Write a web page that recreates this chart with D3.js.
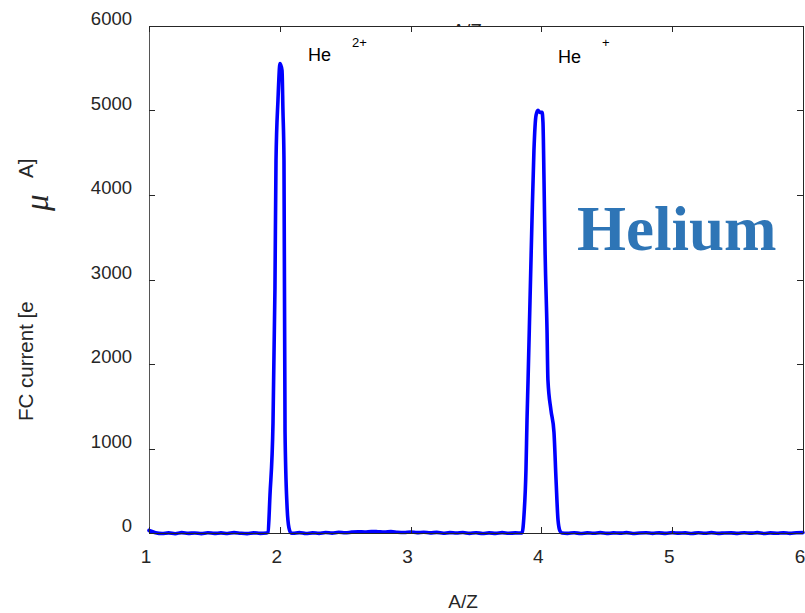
<!DOCTYPE html>
<html>
<head>
<meta charset="utf-8">
<script src="https://cdn.jsdelivr.net/npm/d3@7"></script>
<style>
html,body{margin:0;padding:0;background:#fff;}
svg{display:block;}
</style>
</head>
<body>
<svg id="chart" width="805" height="613"></svg>
<script>
// ---- data ----
const xTicks = [1, 2, 3, 4, 5, 6];
const yTicks = [0, 1000, 2000, 3000, 4000, 5000, 6000];
const ionLabels = ["He", "He"];
const ionCharges = ["2+", "+"];
const elementName = "Helium";

const scanAZ = [
  1.00,1.05,1.10,1.15,1.20,1.25,1.30,1.35,1.40,1.45,1.50,1.55,1.60,1.65,1.70,1.75,1.80,1.85,1.90,
  1.910,1.925,1.948,1.963,1.971,1.986,2.002,2.017,2.024,2.032,2.040,2.055,2.070,2.086,
  2.10,2.15,2.20,2.25,2.30,2.35,2.40,2.45,2.50,2.55,2.60,2.65,2.70,2.75,2.80,2.85,2.90,2.95,
  3.00,3.05,3.10,3.15,3.20,3.25,3.30,3.35,3.40,3.45,3.50,3.55,3.60,3.65,3.70,3.75,3.80,
  3.852,3.867,3.882,3.890,3.898,3.913,3.928,3.943,3.959,3.974,3.989,4.005,4.012,4.020,4.028,
  4.043,4.050,4.073,4.096,4.112,4.127,4.142,4.157,
  4.20,4.25,4.30,4.35,4.40,4.45,4.50,4.55,4.60,4.65,4.70,4.75,4.80,4.85,4.90,4.95,
  5.00,5.05,5.10,5.15,5.20,5.25,5.30,5.35,5.40,5.45,5.50,5.55,5.60,5.65,5.70,5.75,5.80,5.85,5.90,5.95,6.00
];
const scanCurrent = [
  30,4,-6,2,-8,5,-4,0,-7,3,-5,1,-6,4,-3,-7,2,-4,0,
  10,450,1300,2900,4410,5120,5557,5474,5000,4410,1200,330,60,0,
  -3,5,-6,2,-4,6,-2,8,3,10,14,12,18,15,11,16,9,6,
  12,4,8,2,7,-3,5,0,6,-4,3,-6,2,-5,4,-3,1,
  0,213,745,1336,1809,2755,3700,4528,4942,5001,4978,4978,4859,4174,3346,
  2400,1809,1454,1194,627,154,24,0,
  -4,3,-6,2,-3,5,-5,1,-2,4,-6,0,3,-4,2,-5,
  4,-2,1,-6,3,-3,5,-4,0,2,-5,3,-2,4,-6,1,-3,2,-4,3,5
];

// ---- layout ----
const svg = d3.select("#chart");
const L = 149, R = 803, T = 26, B = 533;
const x = d3.scaleLinear().domain([1, 6]).range([L, R]);
const y = d3.scaleLinear().domain([0, 6000]).range([B, T]);
const axisColor = "#262626";
const font = "'Liberation Sans', Arial, sans-serif";

// partially hidden top title
svg.append("clipPath").attr("id", "topclip")
  .append("rect").attr("x", 0).attr("y", 0).attr("width", 805).attr("height", T);
svg.append("text").attr("clip-path", "url(#topclip)")
  .attr("x", 467).attr("y", 37).attr("text-anchor", "middle")
  .attr("font-family", font).attr("font-size", 19).attr("fill", axisColor)
  .text("A/Z");

// data line
const pts = scanAZ.map((a, i) => [a, scanCurrent[i]]);
const line = d3.line().x(d => x(d[0])).y(d => y(d[1])).curve(d3.curveMonotoneX);
svg.append("path").datum(pts)
  .attr("d", line)
  .attr("fill", "none").attr("stroke", "#0000ff")
  .attr("stroke-width", 3.6).attr("stroke-linejoin", "round").attr("stroke-linecap", "round");

// axes box
const g = svg.append("g");
g.append("line").attr("x1", L).attr("x2", R).attr("y1", T + 0.5).attr("y2", T + 0.5).attr("stroke", axisColor);
g.append("line").attr("x1", L).attr("x2", R).attr("y1", B + 0.5).attr("y2", B + 0.5).attr("stroke", axisColor);
g.append("line").attr("x1", L + 0.5).attr("x2", L + 0.5).attr("y1", T).attr("y2", B).attr("stroke", "#555");
g.append("line").attr("x1", R + 0.5).attr("x2", R + 0.5).attr("y1", T).attr("y2", B).attr("stroke", axisColor);

// ticks (inward, on all sides)
const tl = 6;
xTicks.forEach(t => {
  const px = Math.round(x(t)) + 0.5;
  g.append("line").attr("x1", px).attr("x2", px).attr("y1", B).attr("y2", B - tl).attr("stroke", axisColor);
  g.append("line").attr("x1", px).attr("x2", px).attr("y1", T).attr("y2", T + tl).attr("stroke", axisColor);
  g.append("text").attr("x", x(t) - 3).attr("y", 563).attr("text-anchor", "middle")
    .attr("font-family", font).attr("font-size", 19).attr("fill", axisColor).text(t);
});
yTicks.forEach(t => {
  const py = Math.round(y(t)) + 0.5;
  g.append("line").attr("x1", L).attr("x2", L + tl).attr("y1", py).attr("y2", py).attr("stroke", axisColor);
  g.append("line").attr("x1", R).attr("x2", R - tl).attr("y1", py).attr("y2", py).attr("stroke", axisColor);
  g.append("text").attr("x", 132).attr("y", y(t) - 1).attr("text-anchor", "end")
    .attr("font-family", font).attr("font-size", 18.5).attr("fill", axisColor).text(t);
});

// axis labels
svg.append("text").attr("x", 463).attr("y", 608).attr("text-anchor", "middle")
  .attr("font-family", font).attr("font-size", 19).attr("fill", axisColor).text("A/Z");
svg.append("text").attr("transform", "translate(33,421) rotate(-90)")
  .attr("font-family", font).attr("font-size", 20.5).attr("fill", axisColor).text("FC current [e");
svg.append("text").attr("transform", "translate(48,211) rotate(-90)")
  .attr("font-family", "'Liberation Serif', 'Times New Roman', serif").attr("font-style", "italic")
  .attr("font-size", 33).attr("fill", axisColor).text("\u03bc");
svg.append("text").attr("transform", "translate(33,178) rotate(-90)")
  .attr("font-family", font).attr("font-size", 20.5).attr("fill", axisColor).text("A]");

// ion annotations
const ionPos = [{hx: 308, hy: 61, cx: 352, cy: 47}, {hx: 558, hy: 63, cx: 602, cy: 47}];
ionLabels.forEach((lab, i) => {
  svg.append("text").attr("x", ionPos[i].hx).attr("y", ionPos[i].hy)
    .attr("font-family", font).attr("font-size", 18).attr("fill", "#000").text(lab);
  svg.append("text").attr("x", ionPos[i].cx).attr("y", ionPos[i].cy)
    .attr("font-family", font).attr("font-size", 13).attr("fill", "#000").text(ionCharges[i]);
});

// element name
svg.append("text").attr("x", 577).attr("y", 250)
  .attr("font-family", "'Liberation Serif', 'Times New Roman', serif").attr("font-weight", "bold")
  .attr("font-size", 63).attr("fill", "#2e75b6").text(elementName);
</script>
</body>
</html>
